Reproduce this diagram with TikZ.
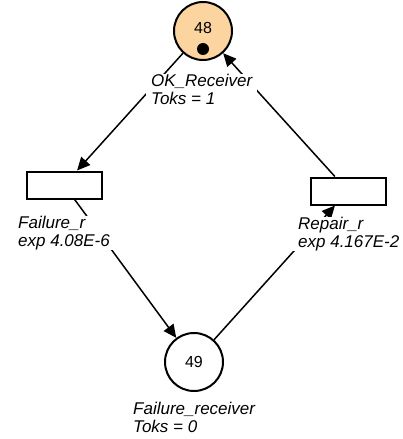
\documentclass[tikz,border=0pt]{standalone}
\usepackage{fontspec}
\setmainfont{Liberation Sans}
\usepackage{tikz}
\usetikzlibrary{arrows.meta}
\definecolor{tokfill}{RGB}{252,212,160}

\begin{document}
\begin{tikzpicture}[x=1pt,y=-1pt,
  pl/.style={circle,draw,line width=2pt,minimum size=58pt,inner sep=0pt,font=\fontsize{16}{16}\selectfont},
  tr/.style={rectangle,draw,line width=2pt,minimum width=75pt,minimum height=27pt,inner sep=0pt},
  tk/.style={circle,fill=black,minimum size=12pt,inner sep=0pt},
  lb/.style={fill=white,inner xsep=5pt,inner ysep=0pt,anchor=north west,align=left,font=\fontsize{17}{18}\selectfont\itshape},
  arc/.style={line width=1.5pt,-{Triangle[length=13pt,width=12pt]}}]
  \useasboundingbox (0,0) rectangle (402,439);

  \node[pl,fill=tokfill,text depth=0pt] (ok) at (203,31) {\raisebox{6pt}{48}};
  \node[tk] (okt) at (203,49) {};
  \node[tr] (fr) at (64,185) {};
  \node[tr] (rr) at (348,191) {};
  \node[pl] (fail) at (194,362) {49};

  \draw[arc] (ok) -- (fr);
  \draw[arc] (fr) -- (fail);
  \draw[arc] (fail) -- (rr);
  \draw[arc] (rr) -- (ok);

  \node[lb] (okl) at (146,74) {OK\_Receiver\\Toks = 1};
  \node[lb] (frl) at (13,216) {Failure\_r\\exp 4.08E-6};
  \node[lb] (rrl) at (293,217) {Repair\_r\\exp 4.167E-2};
  \node[lb] (faill) at (128,402) {Failure\_receiver\\Toks = 0};
\end{tikzpicture}
\end{document}
